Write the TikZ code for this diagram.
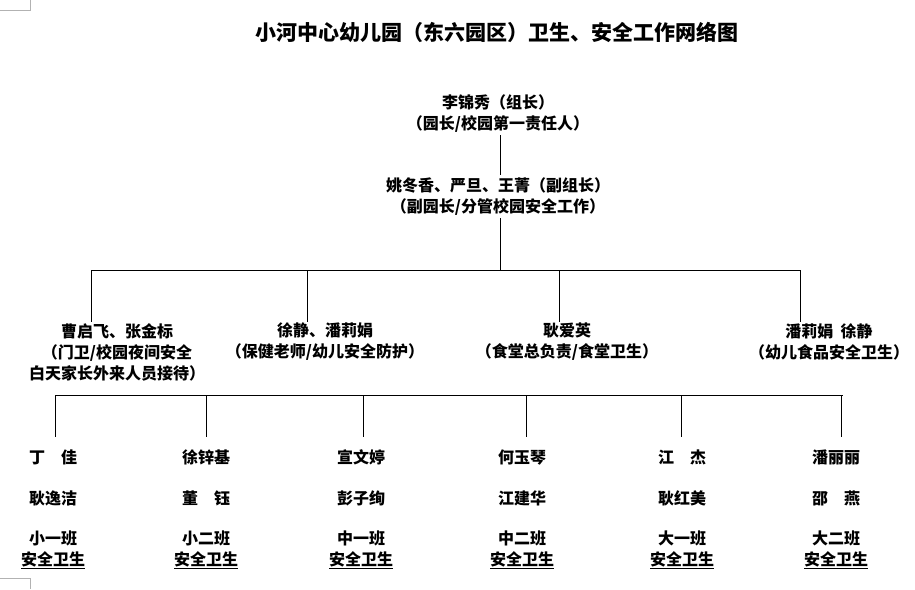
\documentclass[tikz,border=0pt]{standalone}
\usepackage{fontspec}
\setmainfont{Noto Sans CJK SC}
\begin{document}
\begin{tikzpicture}[x=1pt,y=-1pt,
 t/.style={font=\fontsize{16}{21}\selectfont\bfseries,align=center,inner sep=0pt},
 ln/.style={line width=0.6pt}]
\useasboundingbox (0,0) rectangle (915,589);
\draw[gray!60] (30,0)--(30,10)--(0,10);
\draw[gray!60] (0,578)--(30,578)--(30,589);
\node[t,font=\fontsize{21}{24}\selectfont\bfseries] (title) at (497,32) {小河中心幼儿园（东六园区）卫生、安全工作网络图};
\node[t] (lead) at (498,114) {李锦秀（组长）\\（园长/校园第一责任人）};
\node[t] (vice) at (498,197) {姚冬香、严旦、王菁（副组长）\\（副园长/分管校园安全工作）};
\coordinate (h1) at (500,270);
\draw[ln] (500,135)--(500,175);
\draw[ln] (500,218)--(h1);
\draw[ln] (91,270)--(800,270);
\node[t] (a) at (117,352) {曹启飞、张金标\\（门卫/校园夜间安全\\白天家长外来人员接待）};
\node[t] (b) at (325,342) {徐静、潘莉娟\\（保健老师/幼儿安全防护）};
\node[t] (c) at (567,342) {耿爱英\\（食堂总负责/食堂卫生）};
\node[t] (d) at (829,342) {潘莉娟\ \ 徐静\\（幼儿食品安全卫生）};
\foreach \x in {91,307,559,800} \draw[ln] (\x,270)--(\x,322);
\draw[ln] (55,395)--(843,395);
\foreach \x in {55,206,363,526,681,841} \draw[ln] (\x,395)--(\x,437);
\foreach \x/\n/\m/\c/\k in {53/丁\quad 佳/耿逸洁/小一班/p1,206/徐锌基/董\quad 钰/小二班/p2,361/宣文婷/彭子绚/中一班/p3,522/何玉琴/江建华/中二班/p4,682/江\quad 杰/耿红美/大一班/p5,836/潘丽丽/邵\quad 燕/大二班/p6}{
 \node[t] (\k a) at (\x,457) {\n};
 \node[t] (\k b) at (\x,498) {\m};
 \node[t] (\k c) at (\x,550) {\c\\\underline{安全卫生}};
}
\end{tikzpicture}
\end{document}
